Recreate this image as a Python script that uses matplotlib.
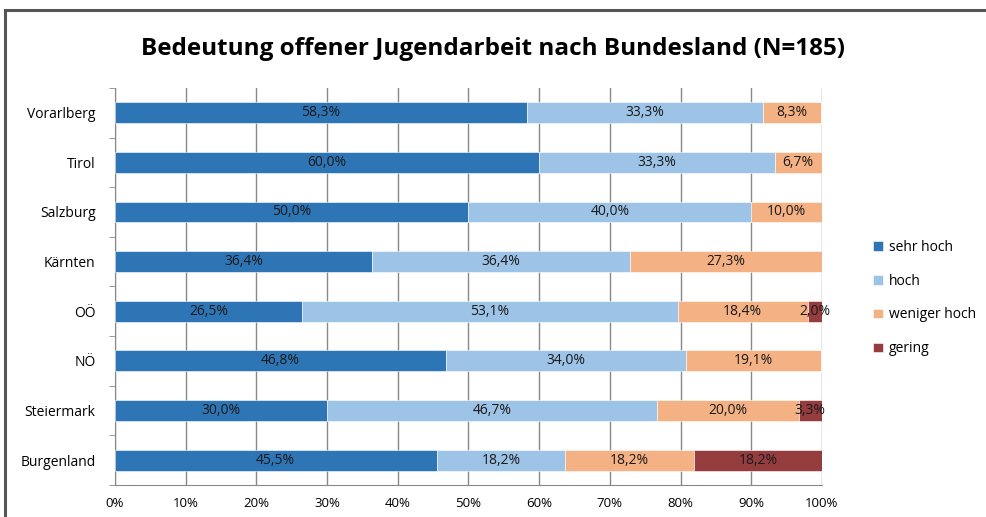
import matplotlib
matplotlib.use('Agg')
import matplotlib.pyplot as plt
import numpy as np
from matplotlib.patches import Rectangle

plt.rcParams['font.family'] = ['Open Sans', 'DejaVu Sans']

# Data (top to bottom as shown)
regions = ['Vorarlberg', 'Tirol', 'Salzburg', 'Kärnten', 'OÖ', 'NÖ', 'Steiermark', 'Burgenland']
sehr_hoch = [58.3, 60.0, 50.0, 36.4, 26.5, 46.8, 30.0, 45.5]
hoch = [33.3, 33.3, 40.0, 36.4, 53.1, 34.0, 46.7, 18.2]
weniger_hoch = [8.3, 6.7, 10.0, 27.3, 18.4, 19.1, 20.0, 18.2]
gering = [0, 0, 0, 0, 2.0, 0, 3.3, 18.2]

series = [('sehr hoch', sehr_hoch, '#2E75B6'),
          ('hoch', hoch, '#9DC3E6'),
          ('weniger hoch', weniger_hoch, '#F4B183'),
          ('gering', gering, '#943C3E')]

fig = plt.figure(figsize=(9.86, 5.17), dpi=100)
ax = fig.add_axes([0.1166, 0.062, 0.717, 0.768])

# outer chart frame (top and left edges visible)
fig.patches.append(Rectangle((0.005, -0.1), 1.2, 1.08, transform=fig.transFigure,
                             fill=False, edgecolor='#555555', linewidth=2.2))

y = np.arange(len(regions))
left = np.zeros(len(regions))
for name, vals, col in series:
    vals = np.array(vals)
    ax.barh(y, vals, left=left, height=0.42, color=col, label=name,
            edgecolor='white', linewidth=0.4, zorder=3)
    for yi, l, v in zip(y, left, vals):
        if v > 0:
            ax.text(l + v / 2, yi, f'{v:.1f}%'.replace('.', ','), ha='center', va='center',
                    fontsize=10, color='#1a1a1a', zorder=4)
    left += vals

ax.set_xlim(0, 100)
ax.set_ylim(len(regions) - 0.5, -0.5)
ax.set_xticks(np.arange(0, 101, 10))
ax.set_xticklabels([f'{t}%' for t in range(0, 101, 10)], fontsize=9.5)
ax.set_yticks(y)
ax.set_yticklabels(regions, fontsize=10)
ax.set_yticks(np.arange(-0.5, len(regions), 1), minor=True)
ax.tick_params(axis='y', which='major', length=0, pad=14)
ax.tick_params(axis='y', which='minor', length=4, color='#888888')
ax.tick_params(axis='x', length=0, pad=9)
ax.xaxis.grid(True, color='#888888', linewidth=1.0, zorder=0)
ax.set_axisbelow(True)
for s in ['top', 'right']:
    ax.spines[s].set_visible(False)
ax.spines['left'].set_color('#888888')
ax.spines['bottom'].set_color('#888888')

fig.text(0.5, 0.905, 'Bedeutung offener Jugendarbeit nach Bundesland (N=185)',
         ha='center', va='center', fontsize=17.5, fontweight='bold')

fig.legend(loc='upper left', bbox_to_anchor=(0.873, 0.56), frameon=False,
           fontsize=10, handlelength=0.7, handleheight=0.7, labelspacing=1.35,
           handletextpad=0.4)

fig.savefig('out.png', dpi=100, facecolor='white')
